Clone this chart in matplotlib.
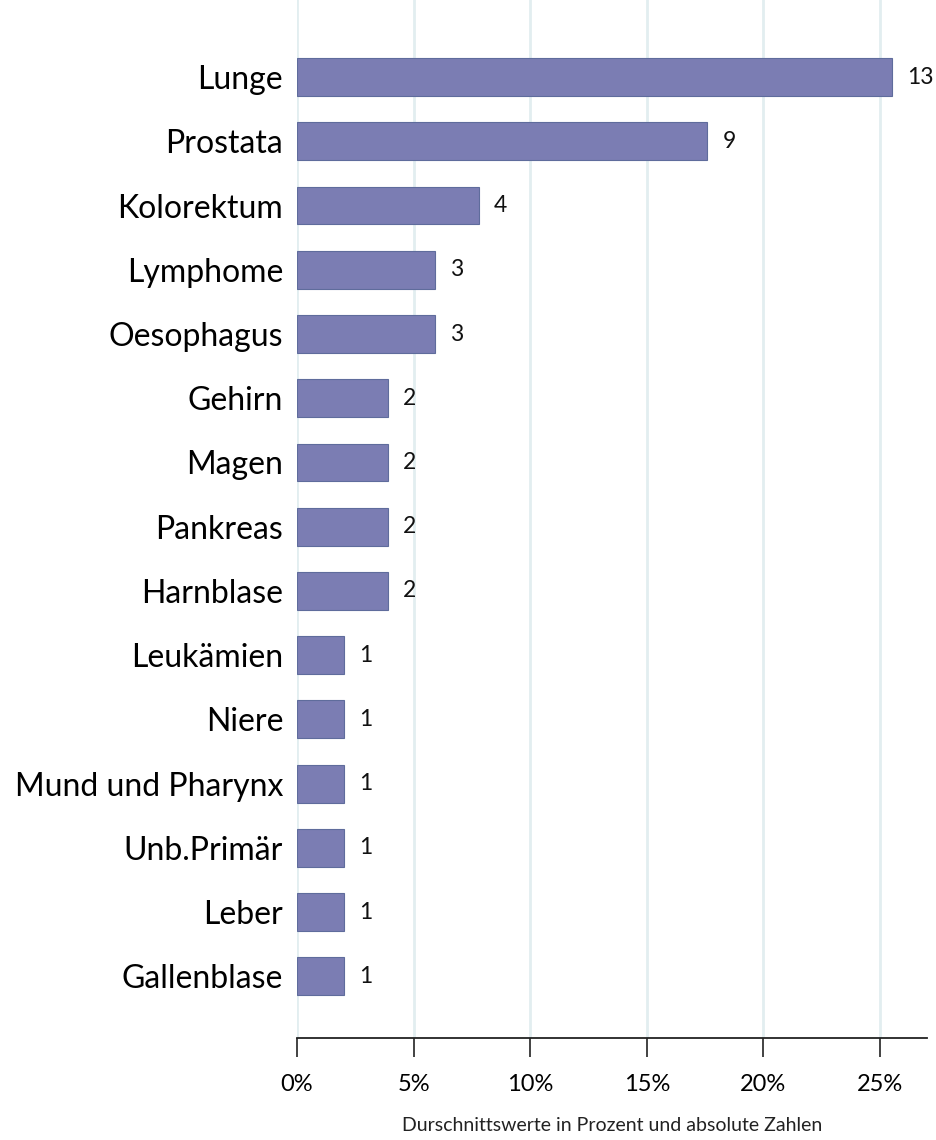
import matplotlib.pyplot as plt
from matplotlib.ticker import FuncFormatter

plt.rcParams['font.family'] = ['Lato', 'DejaVu Sans']

categories = ['Lunge', 'Prostata', 'Kolorektum', 'Lymphome', 'Oesophagus',
              'Gehirn', 'Magen', 'Pankreas', 'Harnblase', 'Leukämien',
              'Niere', 'Mund und Pharynx', 'Unb.Primär', 'Leber', 'Gallenblase']
percent = [25.5, 17.6, 7.8, 5.9, 5.9, 3.9, 3.9, 3.9, 3.9, 2.0, 2.0, 2.0, 2.0, 2.0, 2.0]
counts = [13, 9, 4, 3, 3, 2, 2, 2, 2, 1, 1, 1, 1, 1, 1]
xticks = [0, 5, 10, 15, 20, 25]

fig = plt.figure(figsize=(9.37, 11.4), dpi=100)
ax = fig.add_axes([0.317, 0.0895, 0.672, 0.9105])

ypos = list(range(len(categories)))
ax.barh(ypos, percent, height=0.59, color='#7B7DB3', edgecolor='#5F6C9C',
        linewidth=0.8, zorder=3)
for y, p, c in zip(ypos, percent, counts):
    ax.text(p + 0.65, y, str(c), va='center', ha='left', fontsize=16.5, color='#111111')

ax.set_ylim(14.96, -1.2)
ax.set_xlim(0, 27)
ax.set_yticks(ypos)
ax.set_yticklabels(categories, fontsize=23)
ax.set_xticks(xticks)
ax.xaxis.set_major_formatter(FuncFormatter(lambda v, _: f'{int(v)}%'))
ax.tick_params(axis='x', labelsize=17, length=14, width=1.2, pad=12, color='#222222')
ax.tick_params(axis='y', length=0, pad=10)

ax.grid(axis='x', color='#E2EEF0', linewidth=2, zorder=0)
for s in ['top', 'right', 'left']:
    ax.spines[s].set_visible(False)
ax.spines['bottom'].set_linewidth(1.3)
ax.spines['bottom'].set_color('#222222')

fig.text(0.653, 0.0055, 'Durschnittswerte in Prozent und absolute Zahlen',
         ha='center', va='bottom', fontsize=14, color='#222222')

fig.savefig('out.png', dpi=100)
